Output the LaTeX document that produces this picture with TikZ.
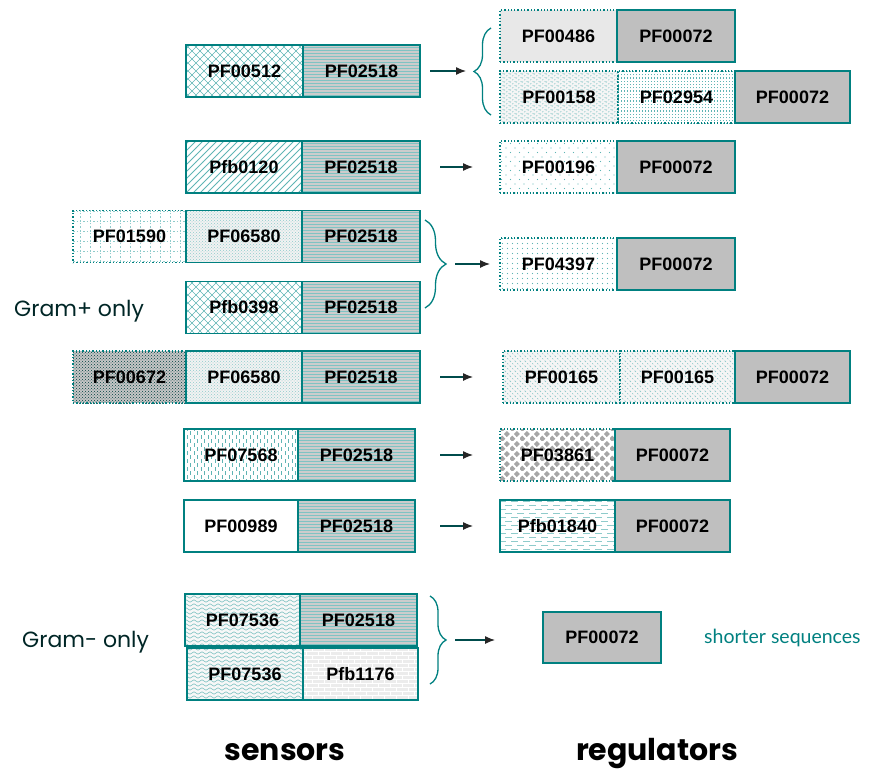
\documentclass[tikz,border=0pt]{standalone}
\usepackage{fontspec}
\setmainfont{Liberation Sans}
\newfontfamily\comic{Poppins}
\newfontfamily\thin{Lato}
\usetikzlibrary{patterns,arrows.meta,decorations.pathreplacing}

\pgfdeclarepatternformonly{widecross}{\pgfqpoint{-1pt}{-1pt}}{\pgfqpoint{9pt}{9pt}}{\pgfqpoint{8pt}{8pt}}{%
  \pgfsetlinewidth{0.6pt}%
  \pgfpathmoveto{\pgfqpoint{0pt}{0pt}}\pgfpathlineto{\pgfqpoint{8.1pt}{8.1pt}}%
  \pgfpathmoveto{\pgfqpoint{0pt}{8pt}}\pgfpathlineto{\pgfqpoint{8.1pt}{-0.1pt}}%
  \pgfusepath{stroke}}
\pgfdeclarepatternformonly{wideNE}{\pgfqpoint{-1pt}{-1pt}}{\pgfqpoint{8pt}{8pt}}{\pgfqpoint{7pt}{7pt}}{%
  \pgfsetlinewidth{0.8pt}%
  \pgfpathmoveto{\pgfqpoint{0pt}{0pt}}\pgfpathlineto{\pgfqpoint{7.1pt}{7.1pt}}%
  \pgfusepath{stroke}}
\pgfdeclarepatternformonly{wideNW}{\pgfqpoint{-1pt}{-1pt}}{\pgfqpoint{6pt}{6pt}}{\pgfqpoint{5pt}{5pt}}{%
  \pgfsetlinewidth{0.5pt}%
  \pgfpathmoveto{\pgfqpoint{0pt}{5pt}}\pgfpathlineto{\pgfqpoint{5.1pt}{-0.1pt}}%
  \pgfusepath{stroke}}
\pgfdeclarepatternformonly{biggrid}{\pgfqpoint{-1pt}{-1pt}}{\pgfqpoint{11pt}{11pt}}{\pgfqpoint{10pt}{10pt}}{%
  \pgfsetlinewidth{0.5pt}%
  \pgfpathmoveto{\pgfqpoint{0pt}{0pt}}\pgfpathlineto{\pgfqpoint{10pt}{0pt}}%
  \pgfpathmoveto{\pgfqpoint{0pt}{0pt}}\pgfpathlineto{\pgfqpoint{0pt}{10pt}}%
  \pgfusepath{stroke}}
\pgfdeclarepatternformonly{sparsedots}{\pgfqpoint{-1pt}{-1pt}}{\pgfqpoint{10pt}{10pt}}{\pgfqpoint{9pt}{9pt}}{%
  \pgfpathcircle{\pgfqpoint{2pt}{2pt}}{0.7pt}%
  \pgfpathcircle{\pgfqpoint{6.5pt}{6.5pt}}{0.7pt}%
  \pgfusepath{fill}}
\pgfdeclarepatternformonly{finedots}{\pgfqpoint{-1pt}{-1pt}}{\pgfqpoint{6pt}{6pt}}{\pgfqpoint{5pt}{5pt}}{%
  \pgfpathcircle{\pgfqpoint{2.5pt}{2.5pt}}{0.55pt}%
  \pgfusepath{fill}}
\pgfdeclarepatternformonly{wavy}{\pgfqpoint{-1pt}{-2pt}}{\pgfqpoint{9pt}{5pt}}{\pgfqpoint{8pt}{4pt}}{%
  \pgfsetlinewidth{0.5pt}%
  \pgfpathmoveto{\pgfqpoint{0pt}{2pt}}%
  \pgfpathcurveto{\pgfqpoint{1.3pt}{3.6pt}}{\pgfqpoint{2.7pt}{3.6pt}}{\pgfqpoint{4pt}{2pt}}%
  \pgfpathcurveto{\pgfqpoint{5.3pt}{0.4pt}}{\pgfqpoint{6.7pt}{0.4pt}}{\pgfqpoint{8pt}{2pt}}%
  \pgfusepath{stroke}}
\pgfdeclarepatternformonly{zigzag}{\pgfqpoint{-1pt}{-1pt}}{\pgfqpoint{7pt}{5pt}}{\pgfqpoint{6pt}{4pt}}{%
  \pgfsetlinewidth{0.5pt}%
  \pgfpathmoveto{\pgfqpoint{0pt}{0.5pt}}\pgfpathlineto{\pgfqpoint{3pt}{3.5pt}}\pgfpathlineto{\pgfqpoint{6pt}{0.5pt}}%
  \pgfusepath{stroke}}
\pgfdeclarepatternformonly{vdash}{\pgfqpoint{-1pt}{-1pt}}{\pgfqpoint{8pt}{9pt}}{\pgfqpoint{7pt}{8pt}}{%
  \pgfsetlinewidth{0.6pt}%
  \pgfpathmoveto{\pgfqpoint{1.5pt}{0pt}}\pgfpathlineto{\pgfqpoint{1.5pt}{3.5pt}}%
  \pgfpathmoveto{\pgfqpoint{5pt}{4pt}}\pgfpathlineto{\pgfqpoint{5pt}{7.5pt}}%
  \pgfusepath{stroke}}
\pgfdeclarepatternformonly{hdash}{\pgfqpoint{-1pt}{-1pt}}{\pgfqpoint{13pt}{9pt}}{\pgfqpoint{12pt}{8pt}}{%
  \pgfsetlinewidth{0.8pt}%
  \pgfpathmoveto{\pgfqpoint{1pt}{2pt}}\pgfpathlineto{\pgfqpoint{8pt}{2pt}}%
  \pgfpathmoveto{\pgfqpoint{7pt}{6pt}}\pgfpathlineto{\pgfqpoint{12pt}{6pt}}%
  \pgfpathmoveto{\pgfqpoint{0pt}{6pt}}\pgfpathlineto{\pgfqpoint{2pt}{6pt}}%
  \pgfusepath{stroke}}
\pgfdeclarepatternformonly{diamonds}{\pgfqpoint{0pt}{0pt}}{\pgfqpoint{10pt}{10pt}}{\pgfqpoint{10pt}{10pt}}{%
  \pgfpathmoveto{\pgfqpoint{-0.8pt}{2.5pt}}\pgfpathlineto{\pgfqpoint{2.5pt}{5.8pt}}\pgfpathlineto{\pgfqpoint{5.8pt}{2.5pt}}\pgfpathlineto{\pgfqpoint{2.5pt}{-0.8pt}}\pgfpathclose
  \pgfpathmoveto{\pgfqpoint{4.2pt}{7.5pt}}\pgfpathlineto{\pgfqpoint{7.5pt}{10.8pt}}\pgfpathlineto{\pgfqpoint{10.8pt}{7.5pt}}\pgfpathlineto{\pgfqpoint{7.5pt}{4.2pt}}\pgfpathclose
  \pgfusepath{fill}}
\pgfdeclarepatternformonly{mybricks}{\pgfqpoint{-1pt}{-1pt}}{\pgfqpoint{13pt}{9pt}}{\pgfqpoint{12pt}{8pt}}{%
  \pgfsetlinewidth{0.8pt}%
  \pgfpathmoveto{\pgfqpoint{0pt}{0pt}}\pgfpathlineto{\pgfqpoint{12pt}{0pt}}%
  \pgfpathmoveto{\pgfqpoint{0pt}{4pt}}\pgfpathlineto{\pgfqpoint{12pt}{4pt}}%
  \pgfpathmoveto{\pgfqpoint{0pt}{0pt}}\pgfpathlineto{\pgfqpoint{0pt}{4pt}}%
  \pgfpathmoveto{\pgfqpoint{6pt}{4pt}}\pgfpathlineto{\pgfqpoint{6pt}{8pt}}%
  \pgfusepath{stroke}}

\definecolor{tealc}{RGB}{0,128,128}
\definecolor{patc}{RGB}{95,180,180}
\newcommand{\lab}{\fontsize{18}{18}\selectfont\bfseries}

\tikzset{
  bx/.style={draw=tealc, line width=1.3pt, minimum height=52, inner sep=0pt, outer sep=0pt, anchor=west, font=\lab, text=black},
  dbx/.style={bx, dotted},
  regbox/.style={bx, fill=gray!50},
  hl/.style={preaction={fill=gray!40}, pattern=horizontal lines, pattern color=patc!80},
  pcross/.style={pattern=widecross, pattern color=patc},
  pne/.style={pattern=wideNE, pattern color=patc},
  pgridd/.style={pattern=biggrid, pattern color=patc!70},
  psparse/.style={pattern=sparsedots, pattern color=patc},
  pfine/.style={pattern=finedots, pattern color=patc},
  pdots/.style={preaction={fill=gray!10}, pattern=crosshatch dots, pattern color=patc!70},
  pdark/.style={preaction={fill=gray!45}, pattern=crosshatch dots, pattern color=teal!50!black},
  pwave/.style={preaction={fill=gray!6}, pattern=wavy, pattern color=patc},
  pzig/.style={preaction={fill=gray!8}, pattern=zigzag, pattern color=patc!80},
  pvert/.style={pattern=vertical lines, pattern color=patc},
  pnw/.style={preaction={fill=gray!8}, pattern=wideNW, pattern color=patc!80},
  pvdash/.style={pattern=vdash, pattern color=patc},
  phdash/.style={pattern=hdash, pattern color=patc!70},
  pdiam/.style={pattern=diamonds, pattern color=gray!70},
  pbrick/.style={preaction={fill=gray!15}, pattern=mybricks, pattern color=white},
  pmarble/.style={fill=gray!18},
  arr/.style={draw=teal!60!black, line width=1.2pt, -{Latex[length=10pt,width=8pt,color=black!85]}},
  brc/.style={draw=tealc, line width=1.3pt, decorate},
  gram/.style={font=\comic\fontsize{22}{22}\selectfont, text=teal!30!black, anchor=base west, inner sep=0pt},
  head/.style={font=\comic\bfseries\fontsize{30}{30}\selectfont, text=black, anchor=base, inner sep=0pt},
}

\begin{document}
\begin{tikzpicture}[x=1pt,y=-1pt]
\useasboundingbox (0,0) rectangle (875,771);

% ---------- row 1
\node[bx, pcross, minimum width=117] (s1a) at (186,71) {PF00512};
\node[bx, hl, minimum width=117] (s1b) at (s1a.east) {PF02518};

\node[dbx, pmarble, minimum width=117] (r1a) at (500,36) {PF00486};
\node[regbox, minimum width=118] (r1b) at (r1a.east) {PF00072};
\node[dbx, pzig, minimum width=118] (r1c) at (500,97) {PF00158};
\node[dbx, pvert, minimum width=117] (r1d) at (r1c.east) {PF02954};
\node[regbox, minimum width=115] (r1e) at (r1d.east) {PF00072};

\coordinate (b1top) at (491,28);
\coordinate (b1bot) at (491,115);
\coordinate (b1tip) at (474,71);
\draw[brc, decoration={brace, amplitude=17pt}] (b1bot) -- (b1top);
\draw[arr, shorten <=10, shorten >=8] (s1b.east) -- (b1tip);

% ---------- row 2
\node[bx, pne, minimum width=116] (s2a) at (186,167) {Pfb0120};
\node[bx, hl, minimum width=118] (s2b) at (s2a.east) {PF02518};
\node[dbx, psparse, minimum width=117] (r2a) at (500,167) {PF00196};
\node[regbox, minimum width=118] (r2b) at (r2a.east) {PF00072};
\draw[arr, shorten <=20, shorten >=27] (s2b.east) -- (r2a.west);

% ---------- row 3
\node[dbx, pgridd, minimum width=113] (s3a) at (73,236.5) {PF01590};
\node[bx, pdots, minimum width=116] (s3b) at (s3a.east) {PF06580};
\node[bx, hl, minimum width=118] (s3c) at (s3b.east) {PF02518};
\node[bx, pcross, minimum width=116] (s4a) at (186,307.5) {Pfb0398};
\node[bx, hl, minimum width=118] (s4b) at (s4a.east) {PF02518};

\coordinate (b2top) at (425,220);
\coordinate (b2bot) at (425,308);
\coordinate (b2tip) at (446,264);
\draw[brc, decoration={brace, amplitude=21pt}] (b2top) -- (b2bot);

\node[dbx, pfine, minimum width=117] (r3a) at (500,264) {PF04397};
\node[regbox, minimum width=118] (r3b) at (r3a.east) {PF00072};
\draw[arr, shorten <=9, shorten >=10] (b2tip) -- (r3a.west);

\node[gram] (gp) at (14,316) {Gram+ only};

% ---------- row 4
\node[dbx, pdark, minimum width=113] (s5a) at (73,377) {PF00672};
\node[bx, pdots, minimum width=116] (s5b) at (s5a.east) {PF06580};
\node[bx, hl, minimum width=118] (s5c) at (s5b.east) {PF02518};
\node[dbx, pnw, minimum width=117] (r4a) at (503,377) {PF00165};
\node[dbx, pnw, minimum width=115] (r4b) at (r4a.east) {PF00165};
\node[regbox, minimum width=115] (r4c) at (r4b.east) {PF00072};
\draw[arr, shorten <=20, shorten >=30] (s5c.east) -- (r4a.west);

% ---------- row 5
\node[bx, pvdash, minimum width=114] (s6a) at (184,455) {PF07568};
\node[bx, hl, minimum width=117] (s6b) at (s6a.east) {PF02518};
\node[dbx, pdiam, minimum width=115] (r5a) at (500,455) {PF03861};
\node[regbox, minimum width=115] (r5b) at (r5a.east) {PF00072};
\draw[arr, shorten <=25, shorten >=27] (s6b.east) -- (r5a.west);

% ---------- row 6
\node[bx, minimum width=114] (s7a) at (184,526) {PF00989};
\node[bx, hl, minimum width=117] (s7b) at (s7a.east) {PF02518};
\node[bx, phdash, minimum width=115] (r6a) at (500,526) {Pfb01840};
\node[regbox, minimum width=115] (r6b) at (r6a.east) {PF00072};
\draw[arr, shorten <=25, shorten >=27] (s7b.east) -- (r6a.west);

% ---------- row 7
\node[bx, pwave, minimum width=115] (s8a) at (185,620) {PF07536};
\node[bx, hl, minimum width=117] (s8b) at (s8a.east) {PF02518};
\node[bx, pwave, minimum width=116] (s9a) at (187,674) {PF07536};
\node[bx, pbrick, minimum width=115] (s9b) at (s9a.east) {Pfb1176};

\coordinate (b3top) at (430,596);
\coordinate (b3bot) at (430,684);
\coordinate (b3tip) at (446,640);
\draw[brc, decoration={brace, amplitude=16pt}] (b3top) -- (b3bot);

\node[regbox, minimum width=118, minimum height=51] (r7) at (543,637.5) {PF00072};
\draw[arr, shorten <=9, shorten >=48] (b3tip) -- (b3tip -| r7.west);

\node[font=\thin\fontsize{19.5}{19.5}\selectfont, text=tealc, anchor=base west, inner sep=0pt] (short) at (704,643) {shorter sequences};
\node[gram] (gm) at (22,647) {Gram- only};

% ---------- headings
\node[head] (sens) at (285,760) {sensors};
\node[head] (regs) at (657,760) {regulators};
\end{tikzpicture}
\end{document}
